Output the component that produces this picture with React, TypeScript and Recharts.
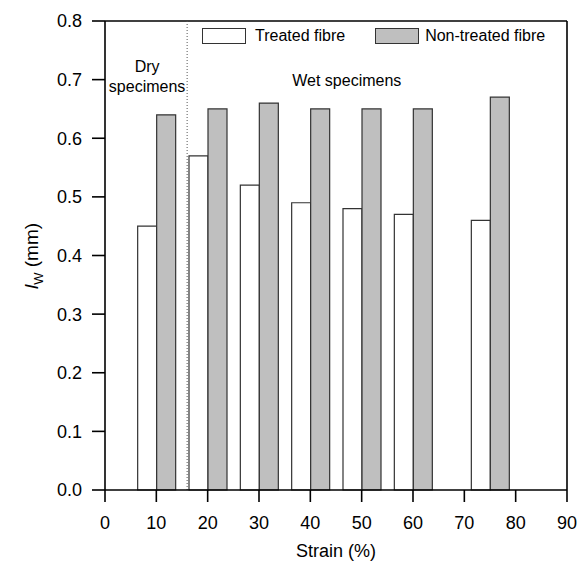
import React from "react";
import {
  BarChart,
  Bar,
  XAxis,
  YAxis,
  Legend,
  ReferenceLine,
  ReferenceDot,
} from "recharts";

const strains = [10, 20, 30, 40, 50, 60, 75];
const treatedFibre = [0.45, 0.57, 0.52, 0.49, 0.48, 0.47, 0.46];
const nonTreatedFibre = [0.64, 0.65, 0.66, 0.65, 0.65, 0.65, 0.67];
const xTicks = [0, 10, 20, 30, 40, 50, 60, 70, 80, 90];
const yTicks = [0, 0.1, 0.2, 0.3, 0.4, 0.5, 0.6, 0.7, 0.8];

const data = strains.map((strain, i) => ({
  strain,
  treated: treatedFibre[i],
  nonTreated: nonTreatedFibre[i],
}));

const font = "'Liberation Sans', Arial, sans-serif";

const LegendBox = () => (
  <div style={{ display: "flex", alignItems: "center", fontFamily: font, fontSize: 16, color: "#000" }}>
    <span style={{ width: 42, height: 14, border: "1.5px solid #333", background: "#fff", display: "inline-block" }} />
    <span style={{ marginLeft: 9 }}>Treated fibre</span>
    <span
      style={{ width: 42, height: 14, border: "1.5px solid #333", background: "#bfbfbf", display: "inline-block", marginLeft: 30 }}
    />
    <span style={{ marginLeft: 6 }}>Non-treated fibre</span>
  </div>
);

const YLabel = () => (
  <text x={38} y={256} transform="rotate(-90 38 256)" textAnchor="middle" fontFamily={font} fontSize={19} fill="#000">
    <tspan fontStyle="italic">l</tspan>
    <tspan fontSize={13} dy={5}>W</tspan>
    <tspan dy={-5}> (mm)</tspan>
  </text>
);

const App = () => {
  return (
    <div style={{ position: "absolute", left: 0, top: 0 }}>
      <BarChart
        width={580}
        height={565}
        data={data}
        margin={{ top: 21, right: 13, bottom: 0, left: 0 }}
        barGap={0}
      >
        <XAxis
          dataKey="strain"
          type="number"
          domain={[0, 90]}
          ticks={xTicks}
          height={75}
          stroke="#000"
          strokeWidth={1.6}
          tickSize={12}
          tickMargin={14}
          tick={{ fill: "#000", fontSize: 18, fontFamily: font }}
          label={{ value: "Strain (%)", position: "insideBottom", offset: 8, fill: "#000", fontSize: 18, fontFamily: font }}
        />
        <YAxis
          type="number"
          domain={[0, 0.8]}
          ticks={yTicks}
          width={105}
          stroke="#000"
          strokeWidth={1.6}
          tickSize={13}
          tickMargin={10}
          tickFormatter={(v: number) => v.toFixed(1)}
          tick={{ fill: "#000", fontSize: 18, fontFamily: font }}
          label={<YLabel />}
        />
        <ReferenceLine y={0.8} stroke="#000" strokeWidth={1.6} />
        <ReferenceLine x={90} stroke="#000" strokeWidth={1.6} />
        <ReferenceLine x={16} stroke="#555" strokeDasharray="1 2" />
        <ReferenceDot
          x={8.2}
          y={0.723}
          r={0}
          label={{ value: "Dry", position: "center", fill: "#000", fontSize: 16, fontFamily: font }}
        />
        <ReferenceDot
          x={8.2}
          y={0.689}
          r={0}
          label={{ value: "specimens", position: "center", fill: "#000", fontSize: 16, fontFamily: font }}
        />
        <ReferenceDot
          x={47.1}
          y={0.698}
          r={0}
          label={{ value: "Wet specimens", position: "center", fill: "#000", fontSize: 16, fontFamily: font }}
        />
        <Legend
          verticalAlign="middle"
          align="center"
          content={<LegendBox />}
          wrapperStyle={{ top: 27, left: 202, width: "auto" }}
        />
        <Bar dataKey="treated" name="Treated fibre" fill="#fff" stroke="#333" strokeWidth={1.2} barSize={19} isAnimationActive={false} />
        <Bar dataKey="nonTreated" name="Non-treated fibre" fill="#bfbfbf" stroke="#333" strokeWidth={1.2} barSize={19} isAnimationActive={false} />
      </BarChart>
    </div>
  );
};

export default App;
